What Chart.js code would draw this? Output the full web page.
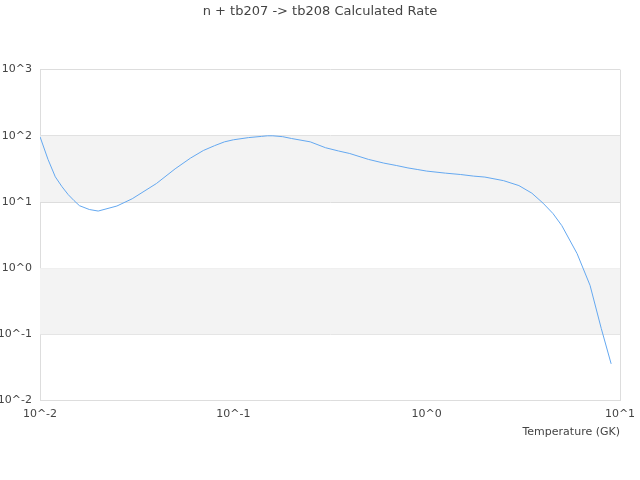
<!DOCTYPE html>
<html>
<head>
<meta charset="utf-8">
<script src="https://cdn.jsdelivr.net/npm/chart.js@4"></script>
<style>
  html, body { margin: 0; padding: 0; background: #fff; }
  #wrap { width: 640px; height: 480px; }
</style>
</head>
<body>
<div id="wrap"><canvas id="rateChart"></canvas></div>
<script>
// temperature grid (GK) and rate
const temperatures = [0.01, 0.011, 0.012, 0.013, 0.014, 0.015, 0.016, 0.018, 0.02, 0.025,
    0.03, 0.04, 0.05, 0.06, 0.07, 0.08, 0.09, 0.1, 0.12, 0.14, 0.15, 0.16, 0.18, 0.2,
    0.25, 0.3, 0.35, 0.4, 0.5, 0.6, 0.7, 0.8, 0.9, 1, 1.25, 1.5, 1.75, 2, 2.5, 3, 3.5,
    4, 4.5, 5, 6, 7, 8, 9];
const rates = [97, 44, 24, 17, 12.9, 10.5, 8.8, 7.7, 7.3, 8.7,
    11.2, 19, 31.7, 46, 60, 71, 81, 87, 94, 98, 100, 100, 97, 91,
    81, 66, 59, 54, 44, 38.7, 35.5, 32.7, 30.9, 29.3, 27.3, 26, 24.6, 23.8, 21, 17.7, 13.6,
    9.6, 6.7, 4.4, 1.66, 0.55, 0.123, 0.0359];
const xTicks = [0.01, 0.1, 1, 10];
const yTicks = [0.01, 0.1, 1, 10, 100, 1000];
const shadedBands = [[10, 100], [0.1, 1]];

let tickFont = { family: 'DejaVu Sans', size: 11 };

function powLabel(v) {
    return '10^' + Math.round(Math.log10(v));
}

// grey bands behind the plot
const bandPlugin = {
    id: 'bands',
    beforeDatasetsDraw(chart) {
        let ctx = chart.ctx, area = chart.chartArea, y = chart.scales.y;
        ctx.save();
        ctx.fillStyle = '#f3f3f3';
        shadedBands.forEach(b => {
            let top = y.getPixelForValue(b[1]);
            let bottom = y.getPixelForValue(b[0]);
            ctx.fillRect(area.left, top, area.right - area.left, bottom - top);
        });
        ctx.restore();
    }
};

new Chart(document.getElementById('rateChart'), {
    type: 'scatter',
    data: {
        datasets: [{
            data: temperatures.map((t, i) => ({ x: t, y: rates[i] })),
            showLine: true,
            borderColor: 'rgb(100,168,240)',
            borderWidth: 1,
            pointRadius: 0,
            fill: false,
            yAxisID: 'y'
        }]
    },
    plugins: [bandPlugin],
    options: {
        responsive: true,
        maintainAspectRatio: false,
        animation: false,
        layout: { padding: { left: 0, right: 0, top: 0, bottom: 41 } },
        scales: {
            x: {
                type: 'logarithmic',
                min: 0.01,
                max: 10,
                afterBuildTicks: s => { s.ticks = xTicks.map(v => ({ value: v })); },
                afterFit: s => { s.paddingLeft = 0; s.paddingRight = 0; },
                ticks: {
                    callback: v => powLabel(v),
                    color: '#444',
                    font: tickFont,
                    maxRotation: 0,
                    padding: 7
                },
                grid: {
                    drawTicks: false,
                    color: c => (c.index === 0 || c.index === xTicks.length - 1) ? '#ddd' : 'rgba(0,0,0,0)'
                },
                border: { color: '#ddd' },
                title: {
                    display: true,
                    text: 'Temperature (GK)',
                    align: 'end',
                    color: '#444',
                    font: tickFont,
                    padding: { top: -2, bottom: 0 }
                }
            },
            y: {
                type: 'logarithmic',
                min: 0.01,
                max: 1000,
                afterBuildTicks: s => { s.ticks = yTicks.map(v => ({ value: v })); },
                afterFit: s => { s.width = 40; },
                ticks: {
                    callback: v => powLabel(v),
                    color: '#444',
                    font: tickFont,
                    padding: 8
                },
                grid: { drawTicks: false, color: '#ddd' },
                border: { color: '#ddd' }
            },
            // empty right-hand spacer so the title stays centred on the canvas
            spacer: {
                type: 'linear',
                position: 'right',
                afterFit: s => { s.width = 20; },
                ticks: { display: false },
                grid: { display: false },
                border: { display: false }
            }
        },
        plugins: {
            legend: { display: false },
            tooltip: { enabled: false },
            title: {
                display: true,
                text: 'n + tb207 -> tb208 Calculated Rate',
                color: '#444',
                font: { family: 'DejaVu Sans', size: 13, weight: 'normal' },
                padding: { top: 4, bottom: 50 }
            }
        }
    }
});
</script>
</body>
</html>
